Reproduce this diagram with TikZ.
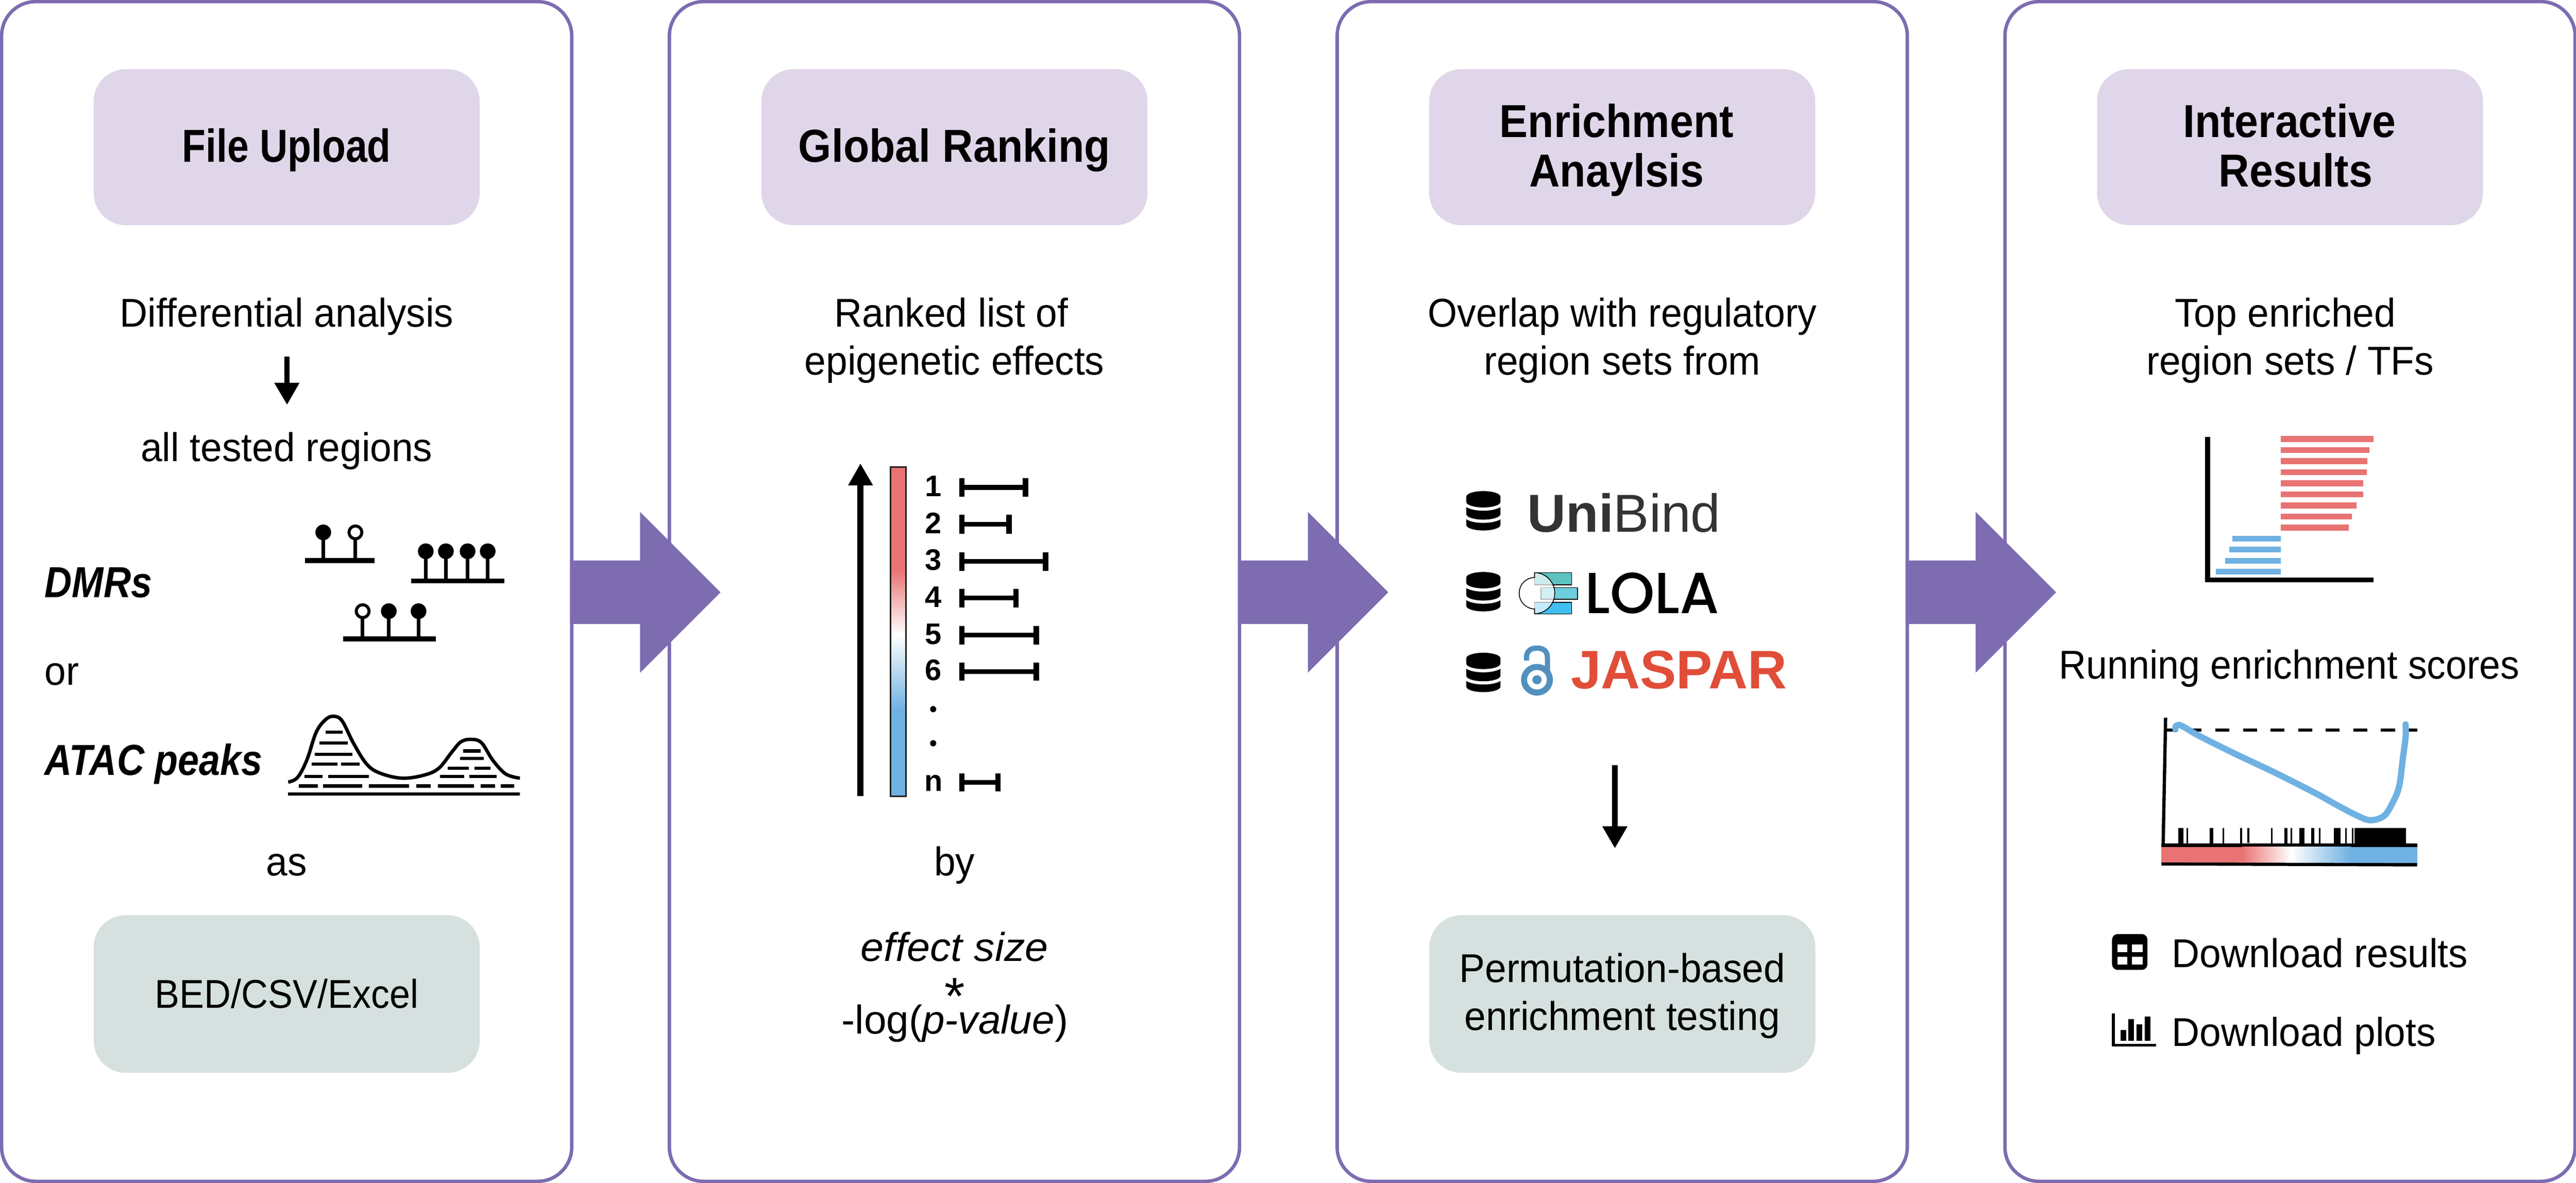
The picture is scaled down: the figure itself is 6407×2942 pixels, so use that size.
\documentclass[tikz,border=0pt]{standalone}
\usepackage{fontspec}
\setmainfont{Liberation Sans}
\newfontfamily\popf{Poppins Medium}
\usetikzlibrary{shapes.geometric}
\definecolor{pur}{HTML}{7D6CB0}
\definecolor{lilac}{HTML}{E0D6E9}
\definecolor{sage}{HTML}{D5E0DF}
\definecolor{hotred}{HTML}{E97373}
\definecolor{coolblue}{HTML}{6FB1E2}
\definecolor{jasp}{HTML}{E04E39}
\definecolor{oa}{HTML}{5290BF}
\definecolor{lolaA}{HTML}{5FC2C2}
\definecolor{lolaB}{HTML}{6DCEDE}
\definecolor{lolaC}{HTML}{40BEEF}
\newcommand{\bodyfont}{\fontsize{10pt}{11pt}\selectfont}
\newcommand{\titlefont}{\fontsize{11.5pt}{12pt}\selectfont\bfseries}
\newcommand{\emfont}{\fontsize{10.8pt}{12pt}\selectfont\bfseries\itshape}
\tikzset{
  panel/.style={draw=pur,line width=0.85pt,rounded corners=8.5pt,fill=white},
  titlebox/.style={fill=lilac,rounded corners=8pt},
  greenbox/.style={fill=sage,rounded corners=8pt},
  body/.style={inner sep=0pt,anchor=base,font=\bodyfont,xscale=0.96,transform shape},
  bodyleft/.style={inner sep=0pt,anchor=base west,font=\bodyfont,xscale=0.96,transform shape},
  ttl/.style={inner sep=0pt,anchor=base,font=\titlefont,xscale=0.92,transform shape},
  emph/.style={inner sep=0pt,anchor=base west,font=\emfont,xscale=0.875,transform shape},
  rank/.style={inner sep=0pt,anchor=base,font=\fontsize{7.4pt}{8pt}\selectfont\bfseries},
  logo/.style={inner sep=0pt,anchor=base west},
}
\begin{document}
\begin{tikzpicture}[x=0.1pt,y=-0.1pt]
\useasboundingbox (0,0) rectangle (6407,2942);
\fill[white] (0,0) rectangle (6407,2942);
% panels
\foreach \k in {0,1,2,3}{
  \begin{scope}[xshift=\k*166.1pt]
  \draw[panel] (4,4) rectangle (1422,2938);
  \fill[titlebox] (233,172) rectangle (1193,560);
  \end{scope}
}
\fill[greenbox] (233,2276) rectangle (1193,2668);
\fill[greenbox] (3555,2276) rectangle (4515,2668);
% big arrows
\foreach \k in {0,1,2}{
  \begin{scope}[xshift=\k*166.1pt]
  \fill[pur] (1418,1394) -- (1592,1394) -- (1592,1273) -- (1792,1473) -- (1592,1673) -- (1592,1552) -- (1418,1552) -- cycle;
  \end{scope}
}
% titles
\node[ttl,xscale=0.91] (t1) at (713,403) {File Upload};
\node[ttl] (t2) at (2374,403) {Global Ranking};
\node[ttl] (t3a) at (4021,341) {Enrichment};
\node[ttl] (t3b) at (4021,464) {Anaylsis};
\node[ttl] (t4a) at (5694,341) {Interactive};
\node[ttl] (t4b) at (5710,464) {Results};
% panel 1 text
\node[body] (a1) at (713,813) {Differential analysis};
\node[body] (a2) at (713,1148) {all tested regions};
\node[emph] (dmr) at (109,1486) {DMRs};
\node[bodyleft] (orr) at (109,1704) {or};
\node[emph] (atac) at (109,1928) {ATAC peaks};
\node[body] (as) at (713,2178) {as};
\node[body,xscale=0.96] (bed) at (713,2507) {BED/CSV/Excel};
% small arrow panel 1
\fill (707,887) rectangle (720,955);
\fill (682,952) -- (745,952) -- (714,1006) -- cycle;
% lollipops
\foreach \xx/\yy/\b/\o in {804/1324/1388/0,884/1324/1388/1,1059/1371/1439/0,1109/1371/1439/0,1163/1371/1439/0,1213/1371/1439/0,902/1520/1582/1,967/1520/1582/0,1041/1520/1582/0}{
  \fill (\xx-4.5,\yy) rectangle (\xx+4.5,\b);
  \ifnum\o=1 \draw[line width=0.75pt,fill=white] (\xx,\yy) circle[radius=16];
  \else \fill (\xx,\yy) circle[radius=19.5]; \fi
}
\fill (758,1388) rectangle (931,1401);
\fill (1022,1439) rectangle (1254,1451);
\fill (853,1582) rectangle (1084,1595);
% ATAC graphic (zoom coordinates)
\begin{scope}[shift={(0,1150)},x=0.09250pt,y=-0.05741pt]
  \fill (775,1430) rectangle (1398,1444);
  \draw[line width=0.85pt,line join=round] plot[smooth,tension=0.6] coordinates {(775,1385) (800,1365) (825,1290) (850,1170) (875,1115) (897,1100) (920,1120) (950,1215) (985,1305) (1020,1345) (1080,1368) (1140,1355) (1180,1325) (1215,1255) (1240,1210) (1268,1200) (1295,1215) (1325,1290) (1360,1350) (1398,1368)};
  \foreach \yy/\segs in {1402/{803/855,868/974,992/1100,1120/1158,1177/1275,1293/1332,1346/1382},1361/{819/867,882/992,1183/1248,1262/1335},1325/{1204/1261,1276/1319},1307/{838/907,917/967},1283/{1237/1301},1265/{846/948},1250/{1246/1292},1216/{859/935},1168/{875/921}}{
    \foreach \aa/\bb in \segs { \fill (\aa,\yy-7) rectangle (\bb,\yy+7); }
  }
\end{scope}
% panel 2
\node[body] (b1) at (2366,813) {Ranked list of};
\node[body] (b2) at (2374,932) {epigenetic effects};
\begin{scope}[shift={(1950,1100)},x=0.05102pt,y=-0.06061pt]
  \fill (357,1452) rectangle (388,170);
  \fill (312,177) -- (372.5,88) -- (434,177) -- cycle;
  \fill[hotred] (516,98) rectangle (598,526);
  \shade[top color=hotred,bottom color=white] (516,525) rectangle (598,790);
  \shade[top color=white,bottom color=coolblue] (516,789) rectangle (598,1100);
  \fill[coolblue] (516,1099) rectangle (598,1455);
  \draw[line width=0.35pt,draw=black!88] (519,101) rectangle (595,1452);
  \foreach \num/\bl in {1/222,2/375,3/525,4/677,5/828,6/978,n/1432}{
    \node[rank] (r\num) at (728,\bl) {\num};
  }
  \fill (727,1095) ellipse[x radius=15,y radius=13];
  \fill (727,1235) ellipse[x radius=15,y radius=13];
  \foreach \tp/\bt/\rr in {148/223/1164,298/375/1084,451/527/1262,601/677/1118,753/829/1217,904/979/1217,1358/1433/1029}{
    \fill (855,\tp) rectangle (880,\bt);
    \fill (\rr,\tp) rectangle (\rr+26,\bt);
    \fill (880,{(\tp+\bt)/2-10}) rectangle (\rr,{(\tp+\bt)/2+10});
  }
\end{scope}
\node[body] (by) at (2374,2178) {by};
\node[body,xscale=1.08,font=\bodyfont\itshape] (es) at (2374,2391) {effect size};
\node[body,xscale=1.045] (pv) at (2375,2571) {-log(\textit{p-value})};
\node[inner sep=0pt,anchor=base,font=\fontsize{13pt}{14pt}\selectfont] (st) at (2374.5,2522) {*};
% panel 3
\node[body,xscale=0.98] (c1) at (4035,813) {Overlap with regulatory};
\node[body] (c2) at (4035,932) {region sets from};
\node[body] (c3) at (4035,2443) {Permutation-based};
\node[body] (c4) at (4035,2562) {enrichment testing};
\fill (4010,1903) rectangle (4023,2058);
\fill (3985,2055) -- (4048,2055) -- (4016.5,2109) -- cycle;
\begin{scope}[shift={(3550,1150)},x=0.06061pt,y=-0.04149pt]
  \foreach \dy in {0,485,969}{
    \begin{scope}[yshift=-\dy*0.04149pt]
      \fill (160,340) -- (160,375) arc[start angle=180,end angle=360,x radius=70,y radius=-33] -- (300,340) -- cycle;
      \draw[white,line width=1.6pt] (160,268) -- (160,310) arc[start angle=180,end angle=360,x radius=70,y radius=-33] -- (300,268);
      \fill (160,268) -- (160,310) arc[start angle=180,end angle=360,x radius=70,y radius=-33] -- (300,268) -- cycle;
      \draw[white,line width=1.6pt] (160,205) -- (160,237) arc[start angle=180,end angle=360,x radius=70,y radius=-33] -- (300,205);
      \fill (160,205) arc[start angle=180,end angle=0,x radius=70,y radius=-33] -- (300,237) arc[start angle=360,end angle=180,x radius=70,y radius=-33] -- cycle;
    \end{scope}
  }
  % LOLA icon
  \draw[fill=lolaA,line width=0.2pt] (440,661) rectangle (592,733);
  \draw[fill=lolaB,line width=0.2pt] (466,750) rectangle (616,820);
  \draw[fill=lolaC,line width=0.2pt] (440,838) rectangle (592,908);
  \draw[fill=white,fill opacity=0.7,line width=0.2pt] (440,661) arc[start angle=90,end angle=-90,x radius=83,y radius=-123] -- (440,878) arc[start angle=-90,end angle=-270,x radius=63,y radius=-94] -- cycle;
  % open-access lock
  \draw[oa,line width=1.3pt] (407,1188) -- (407,1170) .. controls (407,1130) and (425,1113) .. (450,1113) .. controls (475,1113) and (493,1130) .. (493,1170) -- (493,1265);
  \draw[oa,line width=1.5pt] (450,1303) ellipse[x radius=53,y radius=77];
  \fill[oa] (450,1303) ellipse[x radius=19,y radius=27];
\end{scope}
\node[logo,font=\fontsize{13.3pt}{14pt}\selectfont,text=black!80] (uni) at (3797,1323) {\textbf{Uni}Bind};
\node[logo,font=\fontsize{14.4pt}{15pt}\selectfont\popf,xscale=0.98,transform shape] (lola) at (3940,1526) {LOLA};
\node[logo,font=\fontsize{13.5pt}{14pt}\selectfont\bfseries,text=jasp] (jaspar) at (3905,1713) {JASPAR};
% panel 4
\node[body] (d1) at (5684,813) {Top enriched};
\node[body] (d2) at (5696,932) {region sets / TFs};
\node[body,xscale=0.98] (d3) at (5694,1688) {Running enrichment scores};
\begin{scope}[shift={(5250,1040)},x=0.05102pt,y=-0.03333pt]
  \foreach \yy/\rr in {134/1280,217/1261,299/1250,382/1247,464/1231,547/1231,629/1198,712/1175,794/1160}{
    \fill[hotred] (829,\yy) rectangle (\rr,\yy+44);
  }
  \foreach \yy/\ll in {877/592,959/578,1042/558,1124/513}{
    \fill[coolblue] (\ll,\yy) rectangle (829,\yy+44);
  }
  \fill (460,140) rectangle (484,1205);
  \fill (460,1188) rectangle (1280,1224);
\end{scope}
\begin{scope}[shift={(5250,1740)},x=0.05102pt,y=-0.03333pt]
  \fill (259,135) -- (275,135) -- (263,1090) -- (247,1090) -- cycle;
  \foreach \aa/\bb in {270/309,375/443,510/578,645/712,779/847,913/981,1048/1115,1182/1250,1316/1385,1450/1493}{
    \fill (\aa,215) rectangle (\bb,239);
  }
  \draw[coolblue,line width=1.55pt,line cap=round,line join=round] plot[smooth,tension=0.55] coordinates {(315,222) (316,200) (332,188) (365,212) (430,270) (600,400) (800,545) (1000,700) (1100,785) (1200,865) (1265,900) (1330,870) (1370,780) (1405,650) (1425,420) (1437,280) (1437,185)};
  \foreach \aa/\bb in {329/354,369/377,483/500,544/552,631/639,781/789,847/862,876/884,920/945,976/992,1014/1023,1087/1120,1142/1151,1174/1182,1187/1440}{
    \fill (\aa,957) rectangle (\bb,1078);
  }
  \fill (666,957) rectangle (675,1070);
  \fill (247,1075) rectangle (1493,1100);
  \fill[hotred] (247,1099) rectangle (642,1222);
  \shade[left color=hotred,right color=white] (640,1099) rectangle (880,1222);
  \shade[left color=white,right color=coolblue] (879,1099) rectangle (1170,1222);
  \fill[coolblue] (1169,1099) rectangle (1493,1222);
  \fill (247,1215) -- (1493,1220) -- (1493,1245) -- (247,1238) -- cycle;
\end{scope}
% download lines
\fill[rounded corners=1.4pt] (5253,2323) rectangle (5341,2412);
\foreach \xa/\xb in {5266/5291,5303/5329}{
  \foreach \ya/\yb in {2349/2368,2380/2399}{
    \fill[white] (\xa,\ya) rectangle (\xb,\yb);
  }
}
\fill (5253,2521) rectangle (5260,2603);
\fill (5253,2596) rectangle (5362,2603);
\foreach \xa/\xb/\ya in {5274/5288/2562,5294/5308/2535,5314/5328/2548,5335/5348/2528}{
  \fill (\xa,\ya) rectangle (\xb,2589);
}
\node[bodyleft] (dl1) at (5400,2406) {Download results};
\node[bodyleft] (dl2) at (5400,2602) {Download plots};
\end{tikzpicture}
\end{document}
